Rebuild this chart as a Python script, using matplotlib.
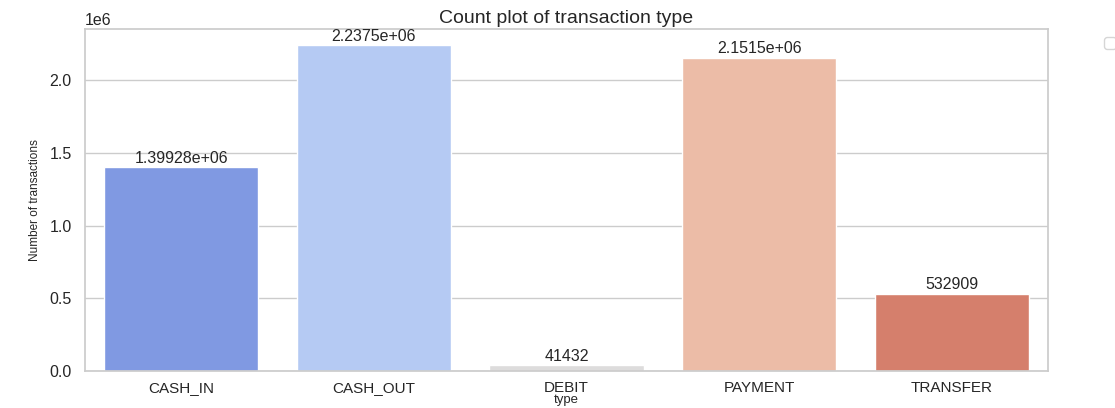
import numpy as np
import pandas as pd
import matplotlib
matplotlib.use("Agg")
import matplotlib.pyplot as plt
import seaborn as sns

# transaction counts per type
types = ["CASH_IN", "CASH_OUT", "DEBIT", "PAYMENT", "TRANSFER"]
counts = [1399284, 2237500, 41432, 2151495, 532909]

sns.set_theme(style="whitegrid")
plt.rcParams['font.family'] = ['Liberation Sans', 'DejaVu Sans']

df = pd.DataFrame({"type": types, "count": counts})

fig, ax = plt.subplots(figsize=(11.15, 4.08), dpi=100)
fig.subplots_adjust(left=0.0762, right=0.94, top=0.929, bottom=0.09)

sns.barplot(data=df, x="type", y="count", hue="type", palette="coolwarm",
            legend=False, ax=ax)
for c in ax.containers:
    ax.bar_label(c, fontsize=11.5, padding=1)

ax.set_title("Count plot of transaction type", fontsize=14, pad=4)
ax.set_ylabel("Number of transactions", fontsize=8.5, labelpad=6)
ax.set_xlabel("type", fontsize=9.5, labelpad=-1)
ax.tick_params(axis="x", labelsize=11, pad=1)
ax.tick_params(axis="y", labelsize=11.5)
ax.yaxis.get_offset_text().set_fontsize(11.5)

ax.legend(bbox_to_anchor=(1.05, 1), loc="upper left")

fig.savefig("out.png", dpi=100)
